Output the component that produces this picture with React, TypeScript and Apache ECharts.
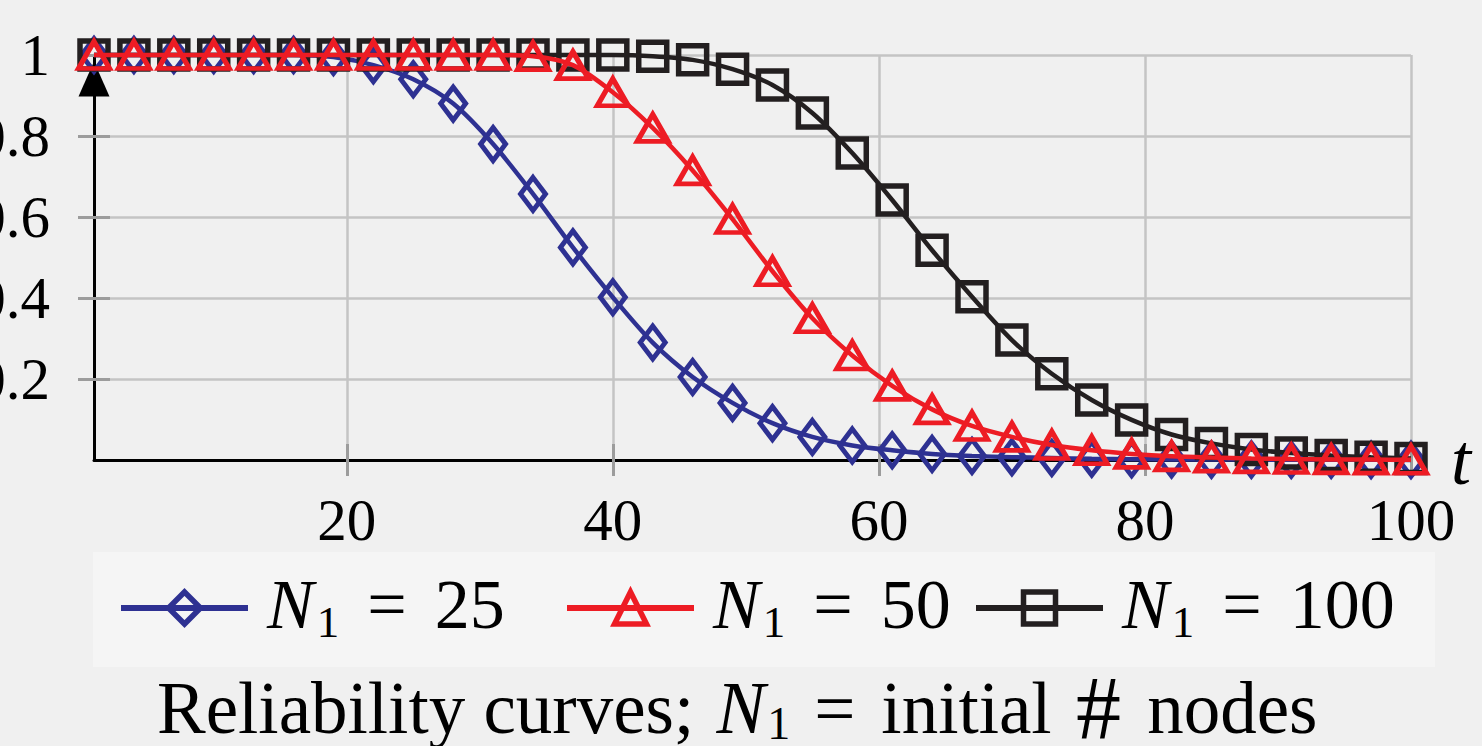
import React, { useEffect, useRef } from 'react';
import * as echarts from 'echarts';

// ---------- data ----------
const tValues = [1, 4, 7, 10, 13, 16, 19, 22, 25, 28, 31, 34, 37, 40, 43, 46, 49, 52, 55, 58, 61, 64, 67, 70, 73, 76, 79, 82, 85, 88, 91, 94, 97, 100];
const reliabilityN25 = [1, 1, 1, 1, 1, 1, 0.995, 0.975, 0.94, 0.88, 0.78, 0.657, 0.525, 0.402, 0.29, 0.205, 0.141, 0.091, 0.057, 0.036, 0.024, 0.015, 0.01, 0.007, 0.005, 0.003, 0.002, 0.0015, 0.001, 0.001, 0.0007, 0.0005, 0.0004, 0.0003];
const reliabilityN50 = [1, 1, 1, 1, 1, 1, 1, 1, 1, 1, 1, 0.997, 0.975, 0.908, 0.82, 0.715, 0.595, 0.466, 0.35, 0.258, 0.183, 0.125, 0.084, 0.057, 0.037, 0.024, 0.015, 0.009, 0.006, 0.004, 0.0025, 0.0015, 0.001, 0.0007];
const reliabilityN100 = [1, 1, 1, 1, 1, 1, 1, 1, 1, 1, 1, 1, 1, 1, 0.997, 0.988, 0.965, 0.926, 0.857, 0.758, 0.642, 0.518, 0.403, 0.296, 0.213, 0.148, 0.099, 0.063, 0.041, 0.026, 0.017, 0.011, 0.007, 0.004];
const xTickValues = [20, 40, 60, 80, 100];
const yTickValues = [0.2, 0.4, 0.6, 0.8, 1];
const seriesNames = ['N1 = 25', 'N1 = 50', 'N1 = 100'];
const legendNumbers = ['25', '50', '100'];

const FONT = 'Liberation Serif, DejaVu Serif, serif';
const BLUE = '#2e3192';
const RED = '#ed1c24';
const BLACK = '#231f20';
const GRID = '#c4c4c4';
const TICK = '#9c9c9c';

export default function App() {
  const ref = useRef<HTMLDivElement>(null);

  useEffect(() => {
    if (!ref.current) return;
    const chart = echarts.init(ref.current, null, { renderer: 'svg' });

    const legendRich = {
      i: { fontFamily: FONT, fontStyle: 'italic', fontWeight: 'normal', fontSize: 70, lineHeight: 72, padding: [0, 3, 8, 14], color: '#000' },
      s: { fontFamily: FONT, fontWeight: 'normal', fontSize: 45, lineHeight: 44, verticalAlign: 'bottom', color: '#000' },
      e: { fontFamily: FONT, fontWeight: 'normal', fontSize: 70, lineHeight: 72, padding: [0, 28, 8, 28], color: '#000' },
      r: { fontFamily: FONT, fontWeight: 'normal', fontSize: 70, lineHeight: 72, padding: [0, 0, 8, 0], color: '#000' },
    };

    const legendLefts = [118, 564, 973];

    const titleRich = {
      a: { fontFamily: FONT, fontWeight: 'normal', fontSize: 73, lineHeight: 76, color: '#000' },
      i: { fontFamily: FONT, fontStyle: 'italic', fontWeight: 'normal', fontSize: 73, lineHeight: 76, padding: [0, 2, 0, 4], color: '#000' },
      s: { fontFamily: FONT, fontWeight: 'normal', fontSize: 46, lineHeight: 40, verticalAlign: 'bottom', color: '#000' },
      e: { fontFamily: FONT, fontWeight: 'normal', fontSize: 73, lineHeight: 76, padding: [0, 26, 0, 24], color: '#000' },
      h: { fontFamily: FONT, fontWeight: 'normal', fontSize: 90, lineHeight: 76, padding: [0, 8, 0, 6], color: '#000' },
    };

    const mkSeries = (name: string, values: number[], color: string, symbol: string, size: number[], bw: number, z: number) => ({
      name,
      type: 'line',
      xAxisIndex: 0,
      yAxisIndex: 0,
      data: tValues.map((t, i) => [t, values[i]]),
      symbol,
      symbolSize: size,
      showSymbol: true,
      showAllSymbol: true,
      smooth: 0.3,
      clip: false,
      z,
      lineStyle: { color, width: 4.5 },
      itemStyle: { color: 'rgba(0,0,0,0)', borderColor: color, borderWidth: bw },
      emphasis: { disabled: true },
    });

    const option = {
      animation: false,
      backgroundColor: '#f0f0f0',
      textStyle: { fontFamily: FONT },
      grid: { left: 94, right: 71, top: 55, bottom: 286, containLabel: false, outerBoundsMode: 'none' },
      title: {
        text: '{a|Reliability curves; }{i|N}{s|1}{e|=}{a|initial }{h|#}{a| nodes}',
        left: 157,
        top: 670,
        padding: 0,
        textStyle: { fontFamily: FONT, fontWeight: 'normal', fontSize: 73, color: '#000', rich: titleRich },
      },
      graphic: [
        { type: 'rect', shape: { x: 93, y: 552, width: 1342, height: 115 }, style: { fill: '#f5f5f5' }, z: 0 },
      ],
      legend: seriesNames.map((name, i) => ({
        data: [name],
        left: legendLefts[i],
        top: 569,
        padding: 0,
        itemWidth: 127,
        itemHeight: 40,
        itemGap: 0,
        selectedMode: false,
        lineStyle: { width: 6 },
        itemStyle: { borderWidth: 5.5 },
        formatter: () => `{i|N}{s|1}{e|=}{r|${legendNumbers[i]}}`,
        textStyle: { fontFamily: FONT, fontSize: 70, color: '#000', rich: legendRich },
      })),
      xAxis: [
        {
          type: 'value',
          min: 1,
          max: 100,
          name: 't',
          nameLocation: 'end',
          nameGap: 40,
          nameMoveOverlap: false,
          nameTextStyle: { fontFamily: FONT, fontStyle: 'italic', fontSize: 72, color: '#000', padding: [0, 0, 26, 0] },
          axisLine: { show: true, onZero: false, lineStyle: { color: '#000', width: 3 } },
          axisTick: { show: true, inside: false, length: 16, customValues: xTickValues, lineStyle: { color: TICK, width: 3 } },
          axisLabel: { show: true, margin: 30, fontFamily: FONT, fontSize: 59, color: '#000', customValues: xTickValues },
          splitLine: { show: true, lineStyle: { color: GRID, width: 2.5 } },
        },
        {
          type: 'value',
          min: 1,
          max: 100,
          position: 'bottom',
          axisLine: { show: false, onZero: false },
          axisTick: { show: true, inside: true, length: 16, customValues: xTickValues, lineStyle: { color: TICK, width: 3 } },
          axisLabel: { show: false, customValues: xTickValues },
          splitLine: { show: false },
        },
      ],
      yAxis: [
        {
          type: 'value',
          min: 0,
          max: 1,
          interval: 0.2,
          axisLine: {
            show: true,
            onZero: false,
            symbol: ['none', 'triangle'],
            symbolSize: [31, 35],
            symbolOffset: [0, -24],
            lineStyle: { color: '#000', width: 3 },
          },
          axisTick: { show: true, inside: false, length: 16, customValues: yTickValues, lineStyle: { color: TICK, width: 3 } },
          axisLabel: { show: true, margin: 44, fontFamily: FONT, fontSize: 59, color: '#000', customValues: yTickValues, formatter: (v: number) => String(v) },
          splitLine: { show: true, lineStyle: { color: GRID, width: 2.5 } },
        },
        {
          type: 'value',
          min: 0,
          max: 1,
          interval: 0.2,
          position: 'left',
          axisLine: { show: false, onZero: false },
          axisTick: { show: true, inside: true, length: 16, customValues: yTickValues, lineStyle: { color: TICK, width: 3 } },
          axisLabel: { show: false, customValues: yTickValues },
          splitLine: { show: false },
        },
      ],
      series: [
        mkSeries(seriesNames[0], reliabilityN25, BLUE, 'diamond', [25, 33], 5, 2),
        mkSeries(seriesNames[1], reliabilityN50, RED, 'triangle', [31, 27], 5, 4),
        mkSeries(seriesNames[2], reliabilityN100, BLACK, 'rect', [28, 28], 5.5, 3),
      ],
    };

    chart.setOption(option as any);
    return () => chart.dispose();
  }, []);

  return <div ref={ref} style={{ position: 'absolute', left: 0, top: 0, width: 1482, height: 746 }} />;
}
